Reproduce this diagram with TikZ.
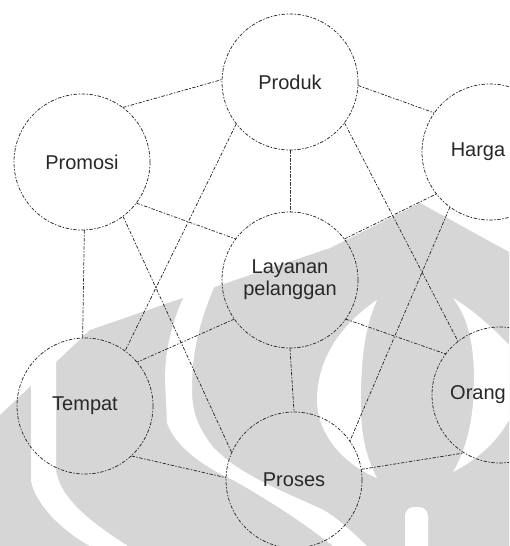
\documentclass[tikz,border=0pt]{standalone}
\usepackage{fontspec}
\setmainfont{Liberation Sans}
\definecolor{wmgrey}{RGB}{214,214,214}
\definecolor{inkgrey}{RGB}{40,40,40}

\begin{document}
\begin{tikzpicture}[x=1pt,y=-1pt,line cap=round,line join=round,
  bubble/.style={circle,minimum size=136pt,inner sep=0pt,draw=inkgrey,line width=0.75pt,
    dash pattern=on 3pt off 2pt on 1pt off 2pt,text=inkgrey,align=center,
    font=\fontsize{20}{22}\selectfont},
  tag/.style={text=inkgrey,inner sep=0pt,font=\fontsize{20}{22}\selectfont},
  link/.style={draw=inkgrey,line width=0.75pt,dash pattern=on 3pt off 2pt on 1pt off 2pt}]
  \useasboundingbox (0,0) rectangle (509,546);
  \clip (0,0) rectangle (509,546);

  % watermark
  \fill[wmgrey] (0,415) -- (90,330) -- (200,292) -- (330,248) -- (420,203)
    -- (509,252) -- (509,546) -- (0,546) -- cycle;
  \fill[white] (31,360) -- (31,480) .. controls (33,500) and (60,530) .. (90,546)
    -- (128,546) .. controls (95,525) and (60,500) .. (56,470) -- (56,360) -- cycle;
  \fill[white] (187,290) .. controls (172,320) and (165,350) .. (165,380)
    -- (167,423) .. controls (175,445) and (200,465) .. (233,480)
    .. controls (265,498) and (300,520) .. (333,546) -- (367,546)
    .. controls (345,525) and (330,512) .. (317,507)
    .. controls (280,490) and (240,475) .. (213,447)
    .. controls (200,430) and (192,415) .. (192,390)
    .. controls (192,350) and (200,320) .. (215,285) -- cycle;
  \fill[white] (377,300) .. controls (340,325) and (317,360) .. (317,400)
    .. controls (317,435) and (345,465) .. (377,478)
    .. controls (362,450) and (360,420) .. (361,390)
    .. controls (362,350) and (366,325) .. (377,300) -- cycle;
  \fill[white] (453,298) .. controls (470,320) and (474,350) .. (474,380)
    .. controls (474,420) and (466,450) .. (453,472)
    .. controls (480,458) and (498,440) .. (509,420) -- (509,345)
    .. controls (490,325) and (470,308) .. (453,298) -- cycle;
  \fill[white,rounded corners=9pt] (405,560) -- (405,507) -- (428,507) -- (428,560) -- cycle;

  % circles
  \node[bubble] (produk)  at (290,82)  {Produk};
  \node[bubble] (harga)   at (490,152) {};
  \node[bubble] (promosi) at (82,162)  {Promosi};
  \node[bubble] (layanan) at (290,280) {Layanan\\pelanggan};
  \node[bubble] (tempat)  at (85,406)  {Tempat};
  \node[bubble] (orang)   at (500,395) {};
  \node[bubble] (proses)  at (294,480) {Proses};

  % labels near the edge
  \node[tag] (hargatxt) at ([xshift=-12pt]harga.center) {Harga};
  \node[tag] (orangtxt) at ([xshift=-22pt]orang.center) {Orang};

  % ring
  \draw[link] (promosi.53) -- (produk.178);
  \draw[link] (produk.-3) -- (harga.145);
  \draw[link] (promosi.-88) -- (tempat.92);
  \draw[link] (tempat.-47) -- (proses.178);
  \draw[link] (proses.9) -- (orang.238);

  % spokes
  \draw[link] (produk.south) -- (layanan.north);
  \draw[link] (promosi.-37) -- (layanan.143);
  \draw[link] (layanan.37) -- (harga.218);
  \draw[link] (layanan.215) -- (tempat.40);
  \draw[link] (layanan.-35) -- (orang.143);
  \draw[link] (layanan.south) -- (proses.north);

  % crossings
  \draw[link] (produk.218) -- (tempat.54);
  \draw[link] (promosi.-53) -- (proses.156);
  \draw[link] (produk.-37) -- (orang.128);
  \draw[link] (harga.234) -- (proses.35);
\end{tikzpicture}
\end{document}
